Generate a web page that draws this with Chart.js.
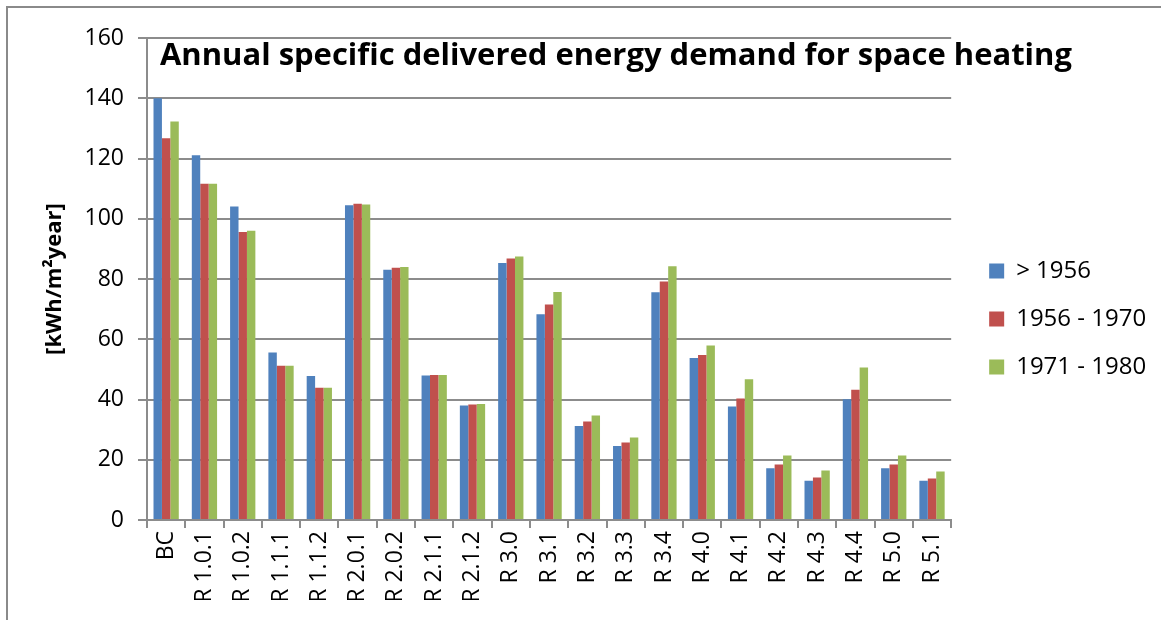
<!DOCTYPE html>
<html>
<head>
<meta charset="utf-8">
<script src="https://cdn.jsdelivr.net/npm/chart.js@4.4.1/dist/chart.umd.min.js"></script>
<style>
    html, body { margin: 0; padding: 0; background: #fff; overflow: hidden; }
    #wrap { position: relative; width: 1161px; height: 620px; }
    #frame {
        position: absolute; left: 6px; top: 6px; width: 1200px; height: 700px;
        border: 2px solid #8a8a8a; pointer-events: none;
    }
</style>
</head>
<body>
<div id="wrap">
    <canvas id="chart" width="1161" height="620"></canvas>
    <div id="frame"></div>
</div>
<script>
// Categories (scenarios)
const labels = ['BC', 'R 1.0.1', 'R 1.0.2', 'R 1.1.1', 'R 1.1.2', 'R 2.0.1', 'R 2.0.2', 'R 2.1.1', 'R 2.1.2',
    'R 3.0', 'R 3.1', 'R 3.2', 'R 3.3', 'R 3.4', 'R 4.0', 'R 4.1', 'R 4.2', 'R 4.3', 'R 4.4', 'R 5.0', 'R 5.1'];

// kWh/m²year per building age class
const before1956 = [140.0, 121.1, 104.1, 55.6, 47.8, 104.5, 83.1, 48.0, 38.0,
    85.3, 68.3, 31.2, 24.6, 75.6, 53.8, 37.7, 17.2, 13.0, 40.1, 17.2, 13.0];
const from1956to1970 = [126.7, 111.6, 95.6, 51.2, 43.9, 105.0, 83.7, 48.1, 38.3,
    86.8, 71.5, 32.7, 25.7, 79.2, 54.8, 40.3, 18.4, 14.1, 43.2, 18.4, 13.8];
const from1971to1980 = [132.3, 111.6, 96.0, 51.2, 43.9, 104.7, 84.0, 48.1, 38.5,
    87.5, 75.7, 34.7, 27.4, 84.2, 57.9, 46.7, 21.4, 16.4, 50.6, 21.4, 16.1];

const seriesNames = ['> 1956', '1956 - 1970', '1971 - 1980'];
const seriesColors = ['#4F81BD', '#C0504D', '#9BBB59'];

const chartTitle = 'Annual specific delivered energy demand for space heating';
const FONT = "'Open Sans', 'Noto Sans', sans-serif";
const GRID = '#8c8c8c';

// Title drawn inside the plot area, like the original
const insideTitle = {
    id: 'insideTitle',
    afterDraw(chart) {
        const ctx = chart.ctx;
        const area = chart.chartArea;
        ctx.save();
        let size = 30;
        ctx.font = 'bold ' + size + 'px ' + FONT;
        const w = ctx.measureText(chartTitle).width;
        size = Math.min(32, size * 912 / w);
        ctx.font = 'bold ' + size + 'px ' + FONT;
        ctx.fillStyle = '#000';
        ctx.textAlign = 'left';
        ctx.textBaseline = 'alphabetic';
        ctx.fillText(chartTitle, area.left + 13, area.top + 27);
        ctx.restore();
    }
};

const ctx = document.getElementById('chart').getContext('2d');
new Chart(ctx, {
    type: 'bar',
    data: {
        labels: labels,
        datasets: [before1956, from1956to1970, from1971to1980].map((d, i) => ({
            label: seriesNames[i],
            data: d,
            backgroundColor: seriesColors[i],
            borderWidth: 0,
            categoryPercentage: 0.66,
            barPercentage: 1.0
        }))
    },
    options: {
        responsive: false,
        animation: false,
        layout: { padding: { left: 16, top: 38, right: 6, bottom: 20 } },
        plugins: {
            legend: {
                position: 'right',
                labels: {
                    color: '#000',
                    font: { family: FONT, size: 24 },
                    boxWidth: 15,
                    boxHeight: 15,
                    padding: 24
                }
            },
            tooltip: { enabled: false },
            title: { display: false }
        },
        scales: {
            x: {
                afterFit: (scale) => { scale.height = 80; },
                grid: {
                    offset: true,
                    drawOnChartArea: false,
                    drawTicks: true,
                    tickLength: 8,
                    color: GRID,
                    lineWidth: 2
                },
                border: { display: true, color: GRID, width: 2 },
                ticks: {
                    color: '#000',
                    font: { family: FONT, size: 23 },
                    maxRotation: 90,
                    minRotation: 90,
                    autoSkip: false,
                    padding: 3
                }
            },
            y: {
                min: 0,
                max: 160,
                afterFit: (scale) => { scale.width = 131; },
                grid: { color: GRID, lineWidth: 2, tickLength: 9 },
                border: { display: true, color: GRID, width: 2 },
                ticks: {
                    stepSize: 20,
                    color: '#000',
                    font: { family: FONT, size: 23 },
                    padding: 14
                },
                title: {
                    display: true,
                    text: '[kWh/m²year]',
                    color: '#000',
                    font: { family: FONT, size: 22, weight: 'bold' },
                    padding: { top: 26, bottom: 0 }
                }
            },
            // empty spacer between the plot and the legend
            gap: {
                type: 'linear',
                position: 'right',
                afterFit: (scale) => { scale.width = 14; },
                grid: { display: false },
                border: { display: false },
                ticks: { display: false }
            }
        }
    },
    plugins: [insideTitle]
});
</script>
</body>
</html>
